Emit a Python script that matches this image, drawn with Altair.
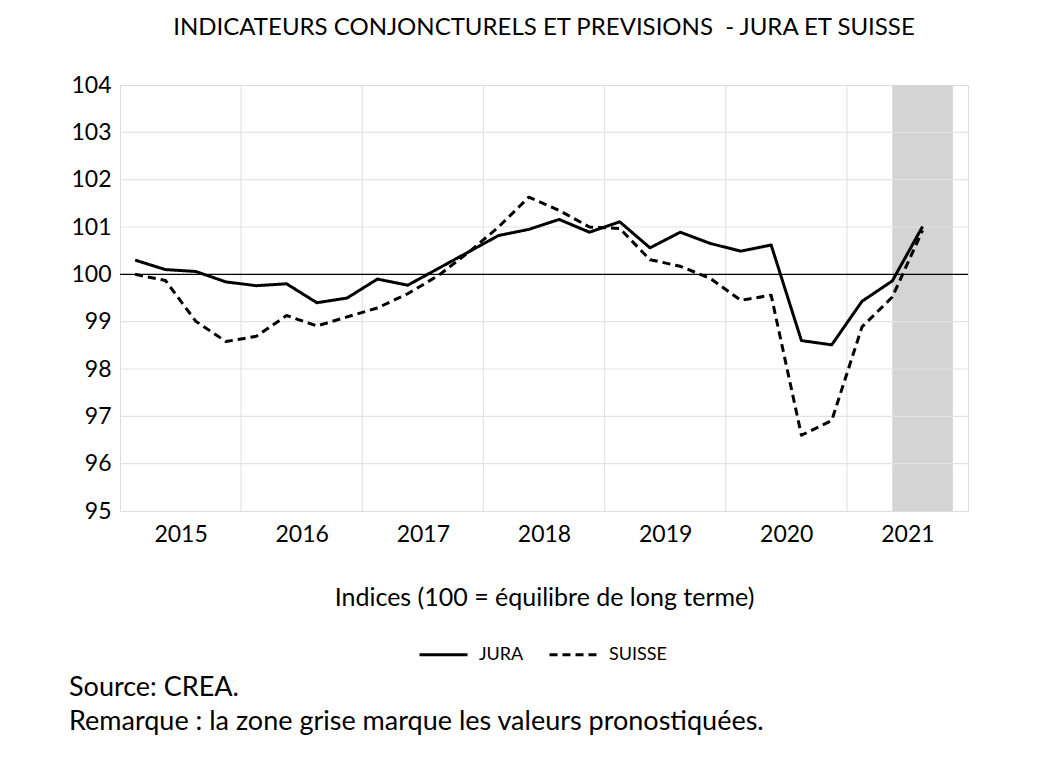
import altair as alt
import pandas as pd

# ---------------- data ----------------
years = ["2015", "2016", "2017", "2018", "2019", "2020", "2021"]
series_names = ["JURA", "SUISSE"]
jura = [100.30, 100.10, 100.06, 99.84, 99.76, 99.80, 99.40, 99.50, 99.90, 99.77,
        100.12, 100.47, 100.82, 100.95, 101.16, 100.89, 101.11, 100.56, 100.89,
        100.65, 100.49, 100.62, 98.60, 98.51, 99.43, 99.86, 101.01]
suisse = [100.00, 99.87, 99.01, 98.58, 98.69, 99.13, 98.91, 99.10, 99.29, 99.59,
          99.97, 100.46, 101.00, 101.63, 101.35, 101.00, 100.97, 100.31, 100.17,
          99.91, 99.45, 99.56, 96.60, 96.91, 98.89, 99.52, 100.93]
forecast_start = 25   # quarter index (2021 T2)
forecast_end = 27     # quarter index (2021 T4)
y_ticks = [95, 96, 97, 98, 99, 100, 101, 102, 103, 104]
grid_values = [96, 97, 98, 99, 101, 102, 103]
ref_value = 100
title_text = "INDICATEURS CONJONCTURELS ET PREVISIONS \u00a0- JURA ET SUISSE"
axis_title = "Indices (100 = équilibre de long terme)"
notes = ["Source: CREA.", "Remarque : la zone grise marque les valeurs pronostiquées."]

# ---------------- tables ----------------
rows = []
for i, v in enumerate(jura):
    rows.append({"t": i, "serie": "JURA", "v": v})
for i, v in enumerate(suisse):
    rows.append({"t": i, "serie": "SUISSE", "v": v})
df = pd.DataFrame(rows)

n_quarters = 4 * len(years)
year_bounds = pd.DataFrame({"b": [4 * k - 0.5 for k in range(1, len(years))]})
label_pos = [4 * k + 1.5 for k in range(len(years))]
grid_df = pd.DataFrame({"g": grid_values})
ref_df = pd.DataFrame({"g": [ref_value]})
band_df = pd.DataFrame({"a": [forecast_start], "b": [forecast_end],
                        "top": [y_ticks[-1]], "bot": [y_ticks[0]]})
notes_df = pd.DataFrame({"txt": ["\n".join(notes)]})

W, H = 848, 426
FONT = "Lato"

xscale = alt.Scale(domain=[-0.5, n_quarters - 0.5], nice=False, zero=False)
yscale = alt.Scale(domain=[y_ticks[0], y_ticks[-1]], nice=False, zero=False)

years_js = "[" + ",".join(f"'{y}'" for y in years) + "]"
x_axis = alt.Axis(values=label_pos, labelExpr=f"{years_js}[floor(datum.value / 4)]",
                  grid=False, domain=False, ticks=False, tickSize=0,
                  labelFontSize=23, labelFont=FONT, labelColor="black",
                  labelPadding=12, title=axis_title, titleFont=FONT,
                  titleFontSize=25, titleFontWeight="normal", titleColor="black",
                  titlePadding=39)
y_axis = alt.Axis(values=y_ticks, grid=False, domain=False, ticks=False, tickSize=0,
                  labelFontSize=23, labelFont=FONT, labelColor="black",
                  labelPadding=9, title=None)

band = alt.Chart(band_df).mark_rect(color="#d4d4d4").encode(
    x=alt.X("a:Q", scale=xscale, axis=x_axis),
    x2="b:Q",
    y=alt.Y("top:Q", scale=yscale, axis=y_axis),
    y2="bot:Q",
)

hgrid = alt.Chart(grid_df).mark_rule(color="#e3e3e3", strokeWidth=1.2).encode(
    y=alt.Y("g:Q", scale=yscale, axis=y_axis)
)

vgrid = alt.Chart(year_bounds).mark_rule(color="#e3e3e3", strokeWidth=1.2).encode(
    x=alt.X("b:Q", scale=xscale, axis=x_axis)
)

ref = alt.Chart(ref_df).mark_rule(color="black", strokeWidth=1.3).encode(
    y=alt.Y("g:Q", scale=yscale, axis=y_axis)
)

lines = alt.Chart(df).mark_line(color="black", strokeWidth=3, strokeJoin="round").encode(
    x=alt.X("t:Q", scale=xscale, axis=x_axis),
    y=alt.Y("v:Q", scale=yscale, axis=y_axis),
    strokeDash=alt.StrokeDash(
        "serie:N",
        scale=alt.Scale(domain=series_names, range=[[1, 0], [8, 5]]),
        legend=alt.Legend(title=None, orient="none", legendX=298, legendY=544,
                          direction="horizontal", symbolType="stroke",
                          symbolSize=2304, symbolStrokeWidth=3,
                          symbolStrokeColor="black", labelFontSize=18,
                          labelFont=FONT, labelColor="black", labelOffset=10,
                          columnPadding=19, padding=0),
    ),
)

notes_text = alt.Chart(notes_df).mark_text(
    align="left", baseline="top", fontSize=27, font=FONT, color="black",
    lineBreak="\n", lineHeight=34
).encode(x=alt.value(-51), y=alt.value(590), text="txt:N")

chart = alt.layer(band, hgrid, vgrid, ref, lines, notes_text).properties(
    width=W, height=H,
    title=alt.Title(title_text, font=FONT, fontSize=24, fontWeight="normal",
                    color="black", anchor="middle", offset=34),
    autosize=alt.AutoSizeParams(type="none"),
    padding={"left": 112, "top": 77, "right": 84, "bottom": 253},
).configure_view(stroke=None).configure(background="white")

chart.save("out.html", embed_options={"renderer": "svg", "actions": False})
